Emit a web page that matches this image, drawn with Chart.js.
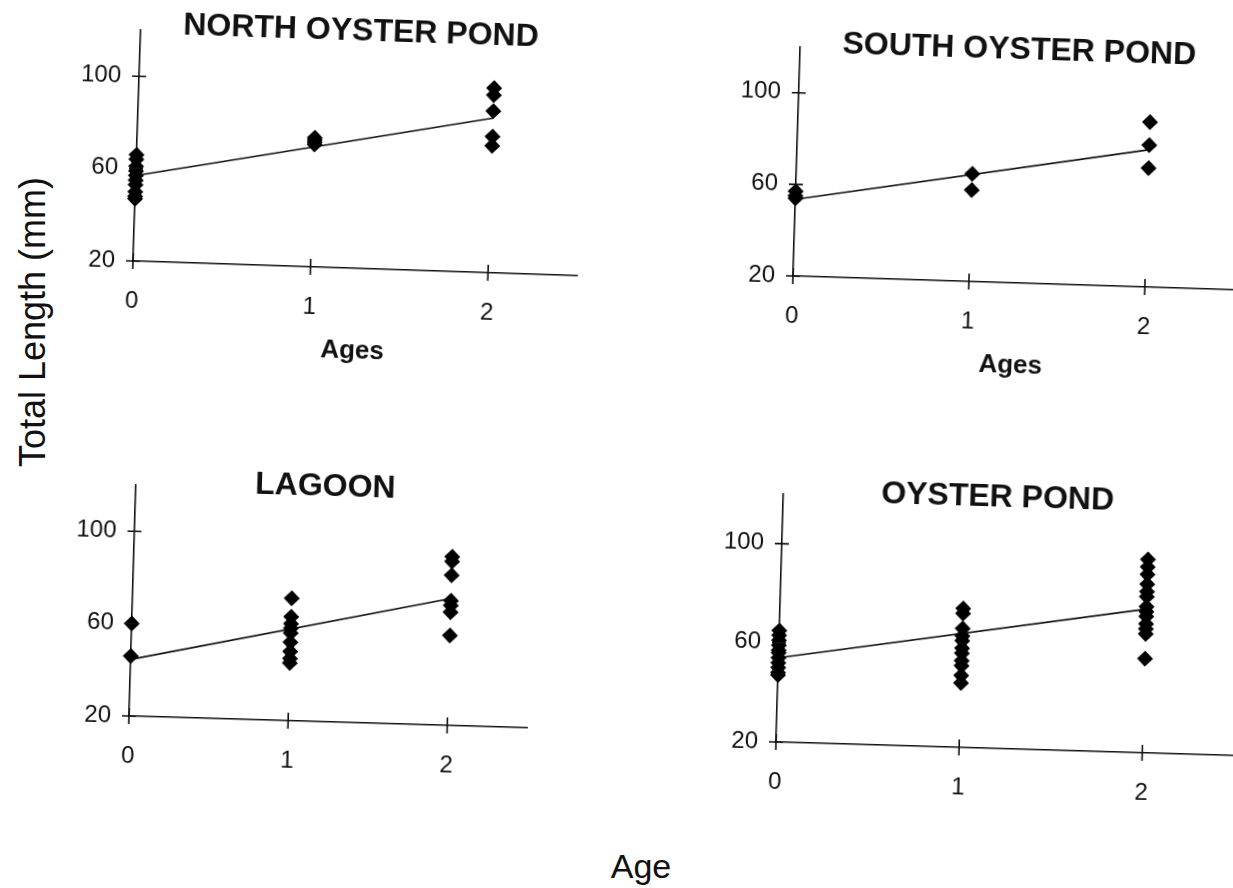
<!DOCTYPE html>
<html>
<head>
<meta charset="utf-8">
<script src="https://cdn.jsdelivr.net/npm/chart.js@4.4.1/dist/chart.umd.min.js"></script>
<style>
  html, body { margin: 0; padding: 0; background: #fff; }
  body { width: 1233px; height: 888px; overflow: hidden; position: relative; font-family: "Liberation Sans", Arial, sans-serif; color: #111; }
  .panel { position: absolute; }
  .panel canvas { display: block; }
  .big { position: absolute; white-space: nowrap; font-size: 36px; transform: translate(-50%, -50%); }
  #ylab { transform: translate(-50%, -50%) rotate(-90deg); }
</style>
</head>
<body>
<div class="big" id="ylab" style="left:33px; top:322px;">Total Length (mm)</div>
<div class="big" id="xlab" style="left:641px; top:866px; font-size:34px;">Age</div>

<script>
// tick labels
const ageTicks = [0, 1, 2];
const lengthTicks = [20, 60, 100];

// NORTH OYSTER POND
const northAge0 = [66, 64, 61, 59, 57, 55, 53, 50, 48, 47];
const northAge1 = [76, 75, 74, 73];
const northAge2 = [100, 97, 90, 79, 75];
const northFit = [57, 87];

// SOUTH OYSTER POND
const southAge0 = [57, 55, 54];
const southAge1 = [67, 60];
const southAge2 = [92, 82, 72];
const southFit = [53.5, 80];

// LAGOON
const lagoonAge0 = [60, 46];
const lagoonAge1 = [73, 65, 62, 60, 58, 54, 50, 47, 45];
const lagoonAge2 = [93, 91, 85, 74, 72, 69, 59];
const lagoonFit = [44.5, 75];

// OYSTER POND
const oysterAge0 = [65, 63, 61, 59, 57, 56, 54, 52, 50, 48, 47];
const oysterAge1 = [76, 74, 68, 65, 63, 60, 58, 55, 53, 49, 46];
const oysterAge2 = [98, 95, 92, 88, 85, 83, 79, 77, 75, 72, 70, 68, 58];
const oysterFit = [54, 78];

const FONT = '"Liberation Sans", Arial, sans-serif';
const INK = '#111';

// layout of each scanned panel (origin = where age 0 / length 20 sits on the page)
const panels = [
  { title: 'NORTH OYSTER POND', ages: [northAge0, northAge1, northAge2], fit: northFit,
    ox: 133, oy: 261, w: 444, h: 231, rot: 1.9, axisTitle: true, tx: 1.24, ty: 122.5 },
  { title: 'SOUTH OYSTER POND', ages: [southAge0, southAge1, southAge2], fit: southFit,
    ox: 793, oy: 276, w: 440, h: 229, rot: 1.8, axisTitle: true, tx: 1.245, ty: 121.7 },
  { title: 'LAGOON', ages: [lagoonAge0, lagoonAge1, lagoonAge2], fit: lagoonFit,
    ox: 129, oy: 716, w: 398, h: 231, rot: 1.7, axisTitle: false, tx: 1.19, ty: 121.6 },
  { title: 'OYSTER POND', ages: [oysterAge0, oysterAge1, oysterAge2], fit: oysterFit,
    ox: 776, oy: 742, w: 458, h: 248, rot: 1.7, axisTitle: false, tx: 1.17, ty: 121 }
];

const PAD = { left: 10, right: 14, top: 50, bottom: 5 };
const Y_W = 70;

// tick marks that cross the axes, plus the panel heading
const scanAxes = {
  id: 'scanAxes',
  afterDraw(chart, args, opts) {
    const { ctx, chartArea } = chart;
    const xs = chart.scales.x, ys = chart.scales.y;
    const x0 = chartArea.left, y0 = chartArea.bottom;
    ctx.save();
    ctx.strokeStyle = INK;
    ctx.lineWidth = 1.6;
    ctx.beginPath();
    lengthTicks.forEach(v => {
      const py = ys.getPixelForValue(v);
      ctx.moveTo(x0 - 7, py);
      ctx.lineTo(x0 + 7, py);
    });
    ageTicks.forEach(v => {
      const px = xs.getPixelForValue(v);
      ctx.moveTo(px, y0 - 8);
      ctx.lineTo(px, y0 + 8);
    });
    ctx.stroke();
    ctx.fillStyle = INK;
    ctx.font = 'bold 32px ' + FONT;
    ctx.textAlign = 'center';
    ctx.textBaseline = 'middle';
    ctx.fillText(opts.title, xs.getPixelForValue(opts.tx), ys.getPixelForValue(opts.ty));
    ctx.restore();
  }
};

panels.forEach(p => {
  const xH = p.axisTitle ? 98 : 60;
  const W = PAD.left + Y_W + p.w + PAD.right;
  const H = PAD.top + p.h + xH + PAD.bottom;
  const originX = PAD.left + Y_W;
  const originY = PAD.top + p.h;

  const div = document.createElement('div');
  div.className = 'panel';
  div.style.left = (p.ox - originX) + 'px';
  div.style.top = (p.oy - originY) + 'px';
  div.style.transformOrigin = originX + 'px ' + originY + 'px';
  div.style.transform = 'rotate(' + p.rot + 'deg)';
  const canvas = document.createElement('canvas');
  canvas.width = W;
  canvas.height = H;
  canvas.style.width = W + 'px';
  canvas.style.height = H + 'px';
  div.appendChild(canvas);
  document.body.appendChild(div);

  const points = [];
  p.ages.forEach((vals, age) => vals.forEach(v => points.push({ x: ageTicks[age], y: v })));

  new Chart(canvas, {
    type: 'scatter',
    data: {
      datasets: [
        {
          data: points,
          pointStyle: 'rectRot',
          pointRadius: 8,
          pointBackgroundColor: '#000',
          pointBorderColor: '#000',
          pointBorderWidth: 0,
          clip: false
        },
        {
          data: [{ x: ageTicks[0], y: p.fit[0] }, { x: ageTicks[2], y: p.fit[1] }],
          showLine: true,
          borderColor: INK,
          borderWidth: 1.6,
          pointRadius: 0,
          clip: false
        }
      ]
    },
    options: {
      responsive: false,
      animation: false,
      devicePixelRatio: 1,
      layout: { padding: PAD },
      plugins: {
        legend: { display: false },
        tooltip: { enabled: false },
        scanAxes: { title: p.title, tx: p.tx, ty: p.ty }
      },
      scales: {
        x: {
          type: 'linear',
          min: 0,
          max: 2.5,
          afterBuildTicks: s => { s.ticks = ageTicks.map(v => ({ value: v })); },
          afterFit: s => { s.height = xH; },
          grid: { display: false, drawTicks: false },
          border: { display: true, color: INK, width: 1.6 },
          ticks: { padding: 26, color: INK, font: { family: FONT, size: 24 }, callback: v => v },
          title: {
            display: p.axisTitle,
            text: 'Ages',
            color: INK,
            font: { family: FONT, size: 26, weight: 'bold' },
            padding: { top: 0, bottom: 0 }
          }
        },
        y: {
          type: 'linear',
          min: 20,
          max: 120,
          afterBuildTicks: s => { s.ticks = lengthTicks.map(v => ({ value: v })); },
          afterFit: s => { s.width = Y_W; },
          grid: { display: false, drawTicks: false },
          border: { display: true, color: INK, width: 1.6 },
          ticks: { padding: 18, color: INK, font: { family: FONT, size: 24 }, callback: v => v }
        }
      }
    },
    plugins: [scanAxes]
  });
});
</script>
</body>
</html>
